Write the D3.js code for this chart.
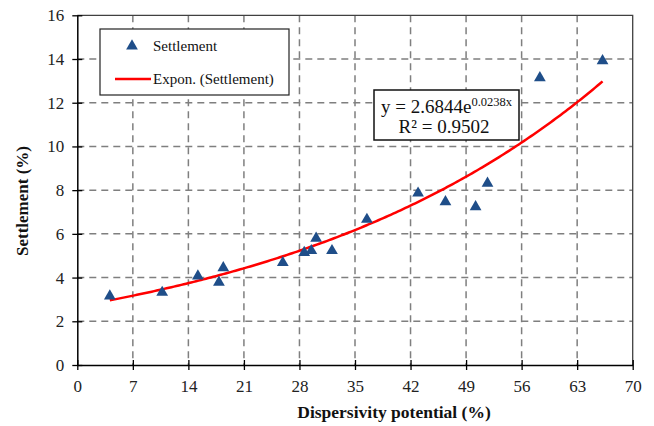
<!DOCTYPE html>
<html><head><meta charset="utf-8">
<script src="https://cdn.jsdelivr.net/npm/d3@7"></script>
<style>body{margin:0;background:#fff}svg{display:block}
svg text{font-family:"Liberation Serif","Times New Roman",Times,Tinos,"DejaVu Serif",serif !important}</style>
</head><body>
<svg id="c" width="654" height="426"></svg>
<script>
const dispersivity = [4.1, 10.7, 15.2, 17.85, 18.4, 25.9, 28.6, 29.5, 30.1, 32.1, 36.5, 42.95, 46.4, 50.2, 51.7, 58.3, 66.2];
const settlement   = [3.15, 3.32, 4.07, 3.78, 4.45, 4.68, 5.14, 5.23, 5.8, 5.23, 6.66, 7.86, 7.47, 7.24, 8.31, 13.14, 13.92];
const xTicks = [0, 7, 14, 21, 28, 35, 42, 49, 56, 63, 70];
const yTicks = [0, 2, 4, 6, 8, 10, 12, 14, 16];
const fitA = 2.6844, fitB = 0.0238;

const svg = d3.select("#c");
const L = 77.3, R = 632.7, T = 15.3, B = 365;
const x = d3.scaleLinear().domain([0, 70]).range([L, R]);
const y = d3.scaleLinear().domain([0, 16]).range([B, T]);

// grid
const g = svg.append("g");
g.selectAll(".gx").data(xTicks.slice(1, -1)).enter().append("line")
  .attr("x1", d => x(d)).attr("x2", d => x(d)).attr("y1", T).attr("y2", B)
  .attr("stroke", "#7f7f7f").attr("stroke-width", 1.5).attr("stroke-dasharray", "7,5");
g.selectAll(".gy").data(yTicks.slice(1, -1)).enter().append("line")
  .attr("x1", L).attr("x2", R).attr("y1", d => y(d)).attr("y2", d => y(d))
  .attr("stroke", "#7f7f7f").attr("stroke-width", 1.5).attr("stroke-dasharray", "7,5");
svg.append("path").attr("d", `M${L},${T}H${R}V${B}`).attr("fill", "none").attr("stroke", "#404040").attr("stroke-width", 1.3);

// axes
const xAxis = svg.append("g").attr("transform", `translate(0,${B})`)
  .call(d3.axisBottom(x).tickValues(xTicks).tickSize(5).tickSizeOuter(0).tickPadding(10));
xAxis.selectAll(".tick line").attr("y1", -5).attr("stroke", "#000").attr("stroke-width", 1.3);
const yAxis = svg.append("g").attr("transform", `translate(${L},0)`)
  .call(d3.axisLeft(y).tickValues(yTicks).tickSize(5).tickSizeOuter(0).tickPadding(8));
yAxis.selectAll(".tick line").attr("x1", 5).attr("stroke", "#000").attr("stroke-width", 1.3);
[xAxis, yAxis].forEach(a => {
  a.select(".domain").attr("stroke", "#000").attr("stroke-width", 1.5);
  a.selectAll("text").attr("font-size", 17).attr("fill", "#222");
});

// trend line
const fx = d3.range(0, 201).map(i => dispersivity[0] + (dispersivity[dispersivity.length - 1] - dispersivity[0]) * i / 200);
svg.append("path").datum(fx)
  .attr("d", d3.line().x(d => x(d)).y(d => y(fitA * Math.exp(fitB * d))))
  .attr("fill", "none").attr("stroke", "#ff0000").attr("stroke-width", 2.5);

// points
const tri = d3.symbol().type(d3.symbolTriangle).size(60);
svg.selectAll(".pt").data(dispersivity).enter().append("path")
  .attr("d", tri).attr("transform", (d, i) => `translate(${x(d)},${y(settlement[i])})`)
  .attr("fill", "#1f4e89");

// legend
svg.append("rect").attr("x", 100).attr("y", 29).attr("width", 189).attr("height", 66)
  .attr("fill", "#fff").attr("stroke", "#222").attr("stroke-width", 1.2);
svg.append("path").attr("d", tri).attr("transform", "translate(132,46)").attr("fill", "#1f4e89");
svg.append("text").attr("x", 153).attr("y", 51).text("Settlement")
  .attr("font-size", 15).attr("fill", "#111");
svg.append("line").attr("x1", 115).attr("x2", 151).attr("y1", 79).attr("y2", 79)
  .attr("stroke", "#ff0000").attr("stroke-width", 2.5);
svg.append("text").attr("x", 153).attr("y", 84).text("Expon. (Settlement)")
  .attr("font-size", 15).attr("fill", "#111");

// equation box
svg.append("rect").attr("x", 374).attr("y", 90).attr("width", 145).attr("height", 50)
  .attr("fill", "#fff").attr("stroke", "#111").attr("stroke-width", 1.5);
const eq = svg.append("text").attr("x", 381).attr("y", 113)
  .attr("font-size", 19).attr("fill", "#111");
eq.append("tspan").text(`y = ${fitA}e`);
eq.append("tspan").attr("font-size", 12.5).attr("dy", -7).text(`${fitB}x`);
svg.append("text").attr("x", 444).attr("y", 132.5).attr("text-anchor", "middle")
  .attr("font-size", 19).attr("fill", "#111").text("R² = 0.9502");

// axis titles
svg.append("text").attr("x", 394).attr("y", 418).attr("text-anchor", "middle")
  .attr("font-size", 17.5).attr("font-weight", "bold").attr("fill", "#111")
  .text("Dispersivity  potential (%)");
svg.append("text").attr("transform", "translate(28,201) rotate(-90)").attr("text-anchor", "middle")
  .attr("font-size", 17).attr("font-weight", "bold").attr("fill", "#111")
  .text("Settlement (%)");
</script>
</body></html>
